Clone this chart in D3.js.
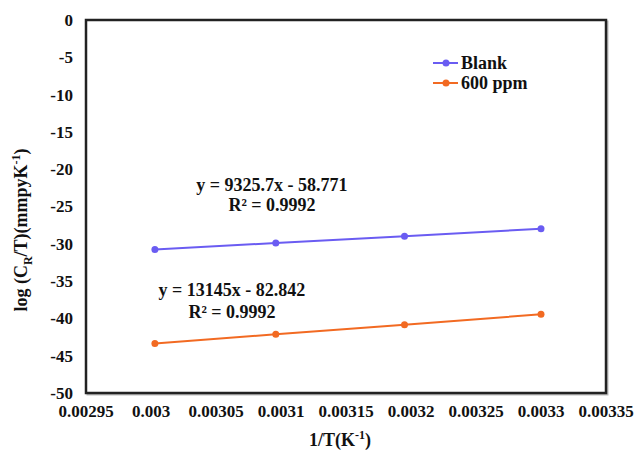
<!DOCTYPE html>
<html>
<head>
<meta charset="utf-8">
<script src="https://d3js.org/d3.v7.min.js"></script>
<style>
  body { margin: 0; background: #fff; }
  text { font-family: "Liberation Serif", "Times New Roman", serif; font-weight: bold; fill: #111; }
</style>
</head>
<body>
<div id="chart"></div>
<script>
// 1/T values (K^-1) for 333, 323, 313, 303 K
var invT = [0.003003, 0.003096, 0.003195, 0.003300];
var blankVals = [-30.77, -29.90, -28.98, -27.99];
var ppmVals = [-43.37, -42.14, -40.84, -39.46];
var seriesNames = ["Blank", "600 ppm"];
var xTicks = [0.00295, 0.003, 0.00305, 0.0031, 0.00315, 0.0032, 0.00325, 0.0033, 0.00335];
var xTickLabels = ["0.00295", "0.003", "0.00305", "0.0031", "0.00315", "0.0032", "0.00325", "0.0033", "0.00335"];
var yTicks = [0, -5, -10, -15, -20, -25, -30, -35, -40, -45, -50];
var eqLabels = [["y = 9325.7x - 58.771", "R\u00b2 = 0.9992"], ["y = 13145x - 82.842", "R\u00b2 = 0.9992"]];

var w = 639, h = 453
    , marginLeft = 86, plotRight = 606, marginTop = 20, plotBottom = 393;
var colors = ["#6a5cf2", "#f26a22"];

var svg = d3.select("#chart").append("svg")
    .attr("width", w)
    .attr("height", h);

var xScale = d3.scaleLinear().domain([0.00295, 0.00335]).range([marginLeft, plotRight]);
var yScale = d3.scaleLinear().domain([-50, 0]).range([plotBottom, marginTop]);

// plot frame (with a faint shadow like the original)
svg.append("rect")
    .attr("x", marginLeft + 1.5).attr("y", marginTop + 1.5)
    .attr("width", plotRight - marginLeft).attr("height", plotBottom - marginTop)
    .attr("fill", "none").attr("stroke", "#bbb").attr("stroke-width", 2);
svg.append("rect")
    .attr("x", marginLeft).attr("y", marginTop)
    .attr("width", plotRight - marginLeft).attr("height", plotBottom - marginTop)
    .attr("fill", "#fff").attr("stroke", "#222").attr("stroke-width", 2.5);

// y tick labels
svg.append("g").selectAll("text")
    .data(yTicks).enter().append("text")
    .attr("x", 73)
    .attr("y", function(d) { return yScale(d); })
    .attr("dy", "0.35em")
    .attr("text-anchor", "end")
    .style("font-size", "17px")
    .text(function(d) { return d; });

// x tick labels
svg.append("g").selectAll("text")
    .data(xTicks).enter().append("text")
    .attr("x", function(d) { return xScale(d); })
    .attr("y", 417)
    .attr("text-anchor", "middle")
    .style("font-size", "17px")
    .text(function(d, i) { return xTickLabels[i]; });

// axis titles
var xt = svg.append("text")
    .attr("x", 340).attr("y", 446)
    .attr("text-anchor", "middle")
    .style("font-size", "18px");
xt.append("tspan").text("1/T(K");
xt.append("tspan").attr("dy", -7).style("font-size", "12px").text("-1");
xt.append("tspan").attr("dy", 7).text(")");

var yt = svg.append("text")
    .attr("transform", "translate(27,230) rotate(-90)")
    .attr("text-anchor", "middle")
    .style("font-size", "18px");
yt.append("tspan").text("log (C");
yt.append("tspan").attr("dy", 5).style("font-size", "12px").text("R");
yt.append("tspan").attr("dy", -5).text("/T)(mmpyK");
yt.append("tspan").attr("dy", -7).style("font-size", "12px").text("-1");
yt.append("tspan").attr("dy", 7).text(")");

// series
var series = [blankVals, ppmVals];
var line = d3.line()
    .x(function(d, i) { return xScale(invT[i]); })
    .y(function(d) { return yScale(d); });

series.forEach(function(vals, s) {
  svg.append("path")
      .datum(vals)
      .attr("d", line)
      .attr("fill", "none")
      .attr("stroke", colors[s])
      .attr("stroke-width", 2);
  svg.append("g").selectAll("circle")
      .data(vals).enter().append("circle")
      .attr("cx", function(d, i) { return xScale(invT[i]); })
      .attr("cy", function(d) { return yScale(d); })
      .attr("r", 3.5)
      .attr("fill", colors[s]);
});

// trendline equations
var eqPos = [[272, 191, 211], [232, 296, 318]];
eqLabels.forEach(function(lbl, s) {
  svg.append("text")
      .attr("x", eqPos[s][0]).attr("y", eqPos[s][1])
      .attr("text-anchor", "middle")
      .style("font-size", "18px")
      .text(lbl[0]);
  svg.append("text")
      .attr("x", eqPos[s][0]).attr("y", eqPos[s][2])
      .attr("text-anchor", "middle")
      .style("font-size", "18px")
      .text(lbl[1]);
});

// legend
var legend = svg.append("g").attr("transform", "translate(433,63)");
seriesNames.forEach(function(name, s) {
  var g = legend.append("g").attr("transform", "translate(0," + (s * 20) + ")");
  g.append("line").attr("x1", 0).attr("x2", 25).attr("y1", 0).attr("y2", 0)
      .attr("stroke", colors[s]).attr("stroke-width", 2);
  g.append("circle").attr("cx", 13).attr("cy", 0).attr("r", 3.5).attr("fill", colors[s]);
  g.append("text").attr("x", 28).attr("y", 0).attr("dy", "0.35em")
      .style("font-size", "18px").text(name);
});
</script>
</body>
</html>
